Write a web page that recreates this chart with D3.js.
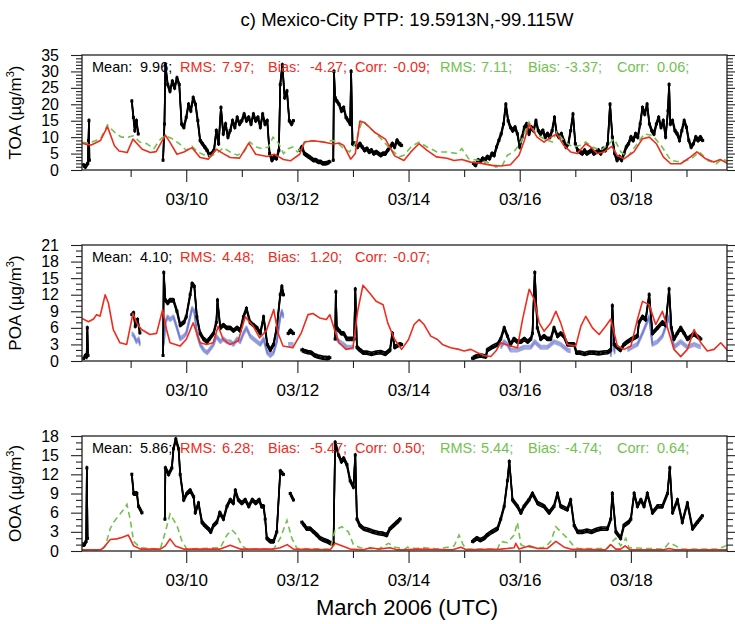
<!DOCTYPE html>
<html>
<head>
<meta charset="utf-8">
<script src="https://cdn.jsdelivr.net/npm/d3@7"></script>
<style>
  body { margin: 0; background: #fff; }
  text { font-family: "Liberation Sans", Arial, Helvetica, sans-serif; }
</style>
</head>
<body>
<div id="chart"></div>
<script>
// time axis: hours since 2006-03-08 00:00 UTC
const dayTicks = [24, 48, 72, 96, 120, 144, 168, 192, 216, 240, 264];
const dayLabels = ["03/09", "03/10", "03/11", "03/12", "03/13", "03/14", "03/15", "03/16", "03/17", "03/18", "03/19"];

// ---- TOA ----
const toaObs = [[3.5,1.5],[4.5,1],[5.5,2],[5.8,9],[6,15],[6.2,3],null,
  [24.5,21],[25.2,16],[25.8,12],[26.5,15],[27.3,11],null,
  [38,3],[38.6,14],[39,32],[40,26],[41,24],[42,27],[43,25],[44,28],[45,26],[46,14],[47,13],[48,16],[49,20],[50,18],[51,22],[52,20],[53,15],[54,9],[55,8],[56,7],[57,6],[58,4.5],[59,5],[60,6],[61,12],[62,8],[63,19],[64,11],[65,14],[66,10],[67,12],[68,15],[69,13],[70,16],[71,14],[72,15],[73,17],[74,15],[75,16],[76,14],[77,17],[78,15],[79,16],[80,13],[81,17],[82,14],[83,15],[84,5],[85,3],[86,4],[87,3.5],[88,6],[88.6,26],[89.5,32],[90.5,22],[91.5,24],[92.5,15],[93.5,14],[94.3,15],null,
  [97,6],[98,7],[99,5],[100,4.5],[101,4],[102,3.5],[103,3],[104,3],[105,2.5],[106,2.5],[107,2],[108,2],[109,2.2],[110,2.5],null,
  [111.5,3],[111.8,30],[112.3,22],[113,21],[114,20],[115,18],[116,19],[117,16],[118,15],[118.8,14],[119.2,30],[119.8,8],[121,8],[122,7],[123,8],[124,7],[125,6],[126,6.5],[127,5.5],[128,6],[129,5],[130,5.5],[131,5],[132,4.5],[133,5],[134,5],[135,6],[136,7],[137,8],[138,7],[139,9],[140,8],[141,7.5],null,
  [172,2],[173,1.5],[174,3],[175,2.5],[176,3.5],[177,3],[178,4],[179,3.5],[180,5],[181,4.5],[182,7],[183,9],[184,11],[185,14],[186,20],[187,15],[188,13],[189,12],[190,13],[191,11],[192,7],[193,10],[194,13],[195,14],[196,11],[197,13],[198,12],[199,15],[200,12],[201,11],[202,12],[203,10],[204,11],[205,10],[206,12],[207,16],[208,11],[209,10],[210,11],[211,9],[212,7],[213,8],[214,12],[215,17],[216,8],[217,6],[218,5.5],[219,5],[220,6],[221,5],[222,5.5],[223,6],[224,5],[225,5.5],[226,6],[227,5],[228,6.5],[229,6],[230,8],[231,20],[232,10],[233,5],[234,3],[235,4],[236,3],[237,5],[238,7],[239,8],[240,10],[241,9],[242,11],[243,10],[244,14],[245,19],[246,17],[247,20],[248,14],[249,12],[250,11],[251,14],[252,16],[253,13],[254,15],[255,10],[256,18],[256.5,26],[257,14],[258,15],[259,12],[260,11],[261,9],[262,12],[263,15],[264,13],[265,9],[266,7],[267,8],[268,10],[269,9],[270,10],[271,9]];
const toaRed = [[3,8.2],[5,7.8],[7,7.6],[9,8.3],[11,9],[14,13.2],[17,7.4],[19,5.8],[22.5,5.3],[25,9.4],[29,6.3],[32.5,5.3],[35,5.6],[39,10.6],[41,8.4],[44,4.8],[47,5.5],[50.5,6.8],[54,3.8],[57.5,3.3],[61,6.3],[64,5],[67,3.8],[71,3.6],[75,8.2],[78,4.8],[83,4.1],[86,4.8],[88,4],[90,3.2],[93,2.8],[97,4.8],[99,8.5],[103,8.9],[107,8.5],[111.5,7.9],[114,8.2],[116,7.5],[119,3.3],[121,5],[123,14.9],[125,14.4],[129.5,11.4],[134,9.4],[138,4.3],[142,2.9],[145,5.5],[148.5,8],[152,6],[156,4],[160.6,3.6],[163.6,2.9],[167,3.2],[170.8,2.4],[175,2.1],[180,1.4],[183.8,1.2],[188,1.6],[191.7,4.5],[194,9],[196,14],[199.5,10],[202.5,8.5],[205.4,10],[208,11],[211,7.5],[214,5.5],[216.8,5],[220.5,8],[222.7,7],[225.5,5],[228.4,5.5],[231.8,7.2],[234,4.5],[237,3.4],[241.3,5.5],[245,9.5],[248,10],[251,8],[254,4],[257.2,1.9],[261.5,1.9],[265.8,4],[268.5,5.5],[272.3,3.4],[275.8,2.4],[278.6,3.2],[282,1.9]];
const toaGreen = [[3,8.4],[6,8.2],[9,9],[11,9.5],[14,13.7],[17,11.5],[20,10],[23,10],[25,10.4],[28,8.5],[31,8],[34,6.5],[37,9.5],[39,10.4],[42,9.5],[45,8],[48,6],[50.5,7.2],[53,5.5],[56,4.5],[59,4.3],[62,5.5],[64,6.8],[67,5.5],[70,4.5],[73,5.5],[75.5,8.5],[78,7],[81,6.5],[83.5,7],[85.5,10],[88,8],[90,5],[92,6.5],[94,7],[96,5.5],[98,7],[100,9],[104,8.8],[108,8.5],[111,9],[113,8.5],[116,6.5],[118.5,5.5],[121,8],[124,15.1],[127,13],[131.5,10],[136,6.5],[140,4],[142,4.5],[145,7],[148.5,8.5],[152,7],[156.3,5.5],[160.6,5.5],[165,5],[167,6.5],[170,3.4],[173.7,3],[178,2.4],[181.7,0.9],[184.5,1.4],[186.7,4.5],[189.5,5.5],[192.5,8.5],[196,14.6],[199,11],[202.5,9.5],[206,8.5],[208,11.5],[211,9],[214.7,7],[218.3,7.5],[220.5,8.5],[223.4,7],[227,6],[230.6,8],[232.8,9.5],[235.7,5.5],[238.6,4],[242.2,7.5],[245.8,11],[249.4,10.5],[253,7.5],[257.3,2.9],[261.6,2.4],[266,3.4],[269.6,5.5],[273.2,2.9],[276.8,1.9],[279.7,3.4],[282,2.4]];
const toaStats = ["Mean:", "9.96;", "RMS:", "7.97;", "Bias:", "-4.27;", "Corr:", "-0.09;", "RMS:", "7.11;", "Bias:", "-3.37;", "Corr:", "0.06;"];

// ---- POA ----
const poaObs = [[3.7,0.5],[4.5,1],[5,0.8],[5.3,6],[5.6,1],null,
  [24.5,8.4],[25.3,8.7],[26,6.3],[27,7.5],[28,5.1],null,
  [38,1],[38.3,16],[39,11],[40,10.5],[41,11],[42.5,11],[44,9],[45.4,6.5],[47,7],[48,8],[49.7,12],[50.5,14],[51.5,13.5],[52.6,8],[54,5],[55.5,4],[57,3.5],[58,4],[59.8,5],[61,7],[61.5,11],[62.7,6],[64,6.5],[65.5,6],[67,6],[68.4,5.5],[70,6],[71.3,5.5],[72.7,8],[74,9.5],[75.6,7],[77,6.5],[78.5,6],[80,5],[81.4,8],[83,3],[84.3,2],[85.7,3],[87.1,6],[88.6,12],[89.3,13.5],[90,12],null,
  [92,5],[93,5.5],[94.3,5],null,
  [97.9,2],[99,1.8],[100.5,1.6],[102,1.5],[103.5,1],[105,0.8],[107,0.6],[109,0.5],[110,0.6],null,
  [112.3,4],[112.6,12.5],[113,6],[114,5.5],[115,5],[116,5],[117.4,4],[119,4],[120.5,4],[121,13],[121.7,2.5],[123,2],[124.5,1.5],[126,1.5],[128,1.3],[130,1.5],[132,1.6],[134,1.3],[136,2],[137,5],[138,2.5],[140,3],[141,3],null,
  [171.6,0.5],[173,0.8],[175,1],[177.4,0.8],[178,2],[180,2.5],[182.4,3],[183.8,4],[185.3,6],[186.7,4.5],[188,3],[189.5,4],[191,3.5],[192.5,3.5],[194,4],[195.5,3.5],[196.8,4],[197.5,5],[198.5,16],[199.6,6],[201,4],[202.5,4.5],[204,4],[205.4,4],[206.8,6],[208.3,4.5],[209.7,5],[211,4.5],[212.6,3],[214,3],[215.5,3],[216.5,1.5],[218,1.5],[220,1.3],[222,1.5],[224,1.5],[226,1.4],[228,1.5],[230,1.6],[231.3,2],[232,10],[232.8,3],[234,2.5],[235.5,2],[237,3],[238.5,3.5],[240.5,4],[242.8,4.5],[243.5,7],[245,8],[246.4,7.5],[247.9,12],[249.3,5],[251.5,6],[253.6,7],[255,6.5],[256.5,13],[257.5,6],[258.6,4],[260,5],[261.5,6],[263,5],[264.4,4],[266,4.5],[267.3,5],[268.5,4.5],[270.2,4]];
const poaBlue = [[5,0.5],[5.3,3],null,
  [24.5,5],[25.5,4.5],[26.5,3.5],[27.5,4],[28,3],null,
  [38.3,3],[39,7],[40,8],[41,7.5],[42.5,8],[44,6],[45.4,4],[47,4.5],[48,5],[49.7,8],[50.5,9.5],[51.5,9],[52.6,5],[54,3],[55.5,2],[57,1.5],[58,2],[59.8,3],[61,4.5],[62.7,3.5],[64,4],[65.5,3.5],[67,3.5],[68.4,3],[70,4],[71.3,3.5],[72.7,5],[74,6],[75.6,4.5],[77,4],[78.5,3.5],[80,3],[81.4,4],[83,1.5],[84.3,1],[85.7,1.5],[87.1,3.5],[88.6,8],[89.3,9],[90,8],null,
  [92,3],[94.3,3],null,
  [112.6,7],[113,4],[114,3.5],[116,3],[117.4,2.5],[120.5,2.5],null,
  [183.8,2.5],[185.3,3.5],[186.7,3],[188,2],[191,2],[194,2.5],[196.8,2.5],[198.5,3.5],[201,2.5],[204,2.5],[206.8,3.5],[209.7,3],[212.6,2],[214,1.8],null,
  [231.3,1],[232,5],[233,1.5],null,
  [238.5,2],[240.5,2.5],[242.8,3],[245,5],[247.9,8],[249.3,3],[251.5,3.5],[253.6,4.5],[256.5,8],[258.6,2.5],[261.5,3.5],[264.4,2.5],[267.3,3],[270.2,2.5]];
const poaRed = [[3,7.7],[5.8,7.1],[8,7.6],[9.3,8.4],[10.8,8.1],[13,12],[14.4,10.5],[16.5,5.7],[19.4,3.3],[22.3,3],[25,8.6],[26.6,6.9],[28.7,5.7],[32.3,4.8],[35.2,5],[37.8,9.3],[39.5,5.7],[41,3.3],[45.3,2.7],[48,3.9],[51,6.9],[54,3.3],[56.8,3],[59.6,3.3],[61.8,6.3],[64,3.9],[66.8,3],[70.4,3.6],[73.5,8],[76.9,6.3],[79.7,4.2],[82.6,5.5],[85.8,9.3],[87.6,5.1],[89.8,2.7],[94,2.4],[97.7,5.1],[100.6,8.4],[102.7,8.6],[105.6,7.8],[108.5,7.5],[110,8.4],[112,5.7],[114,3.3],[117,2.1],[120,2.4],[122,9],[124.3,13.7],[127,12.4],[130,10.8],[133,10.2],[135,6.9],[138,3.9],[141,2.1],[144,3.9],[146.4,6.6],[148.6,7.5],[150.7,6.6],[153.6,4.5],[156.5,3.9],[158.6,3],[162.2,2.4],[165.8,2.1],[168,1.8],[170.9,2.1],[173.8,1.5],[176.6,1],[179.5,0.8],[181.7,1.8],[183.8,3.3],[186,3],[188.1,2.7],[191,2.4],[193.2,7.5],[196.1,13],[198.2,11.2],[200.4,6.9],[202.5,5.4],[205.4,6.9],[207.6,9],[209.7,6.9],[212.6,3],[216.2,2.7],[218.4,6.3],[220.5,8.1],[223.4,6],[226.3,4.8],[229.1,6.3],[231.3,7.6],[234.2,2.7],[237.1,2.1],[240,2.7],[242.8,7.5],[245,10.8],[247.9,10.2],[250.7,6.6],[253.6,9],[255.8,6],[258.6,2.1],[261.5,0.8],[264.4,2.1],[267.3,5.7],[270.2,3.3],[273,1.8],[275.9,2.1],[278.8,3.3],[282,1.8]];
const poaStats = ["Mean:", "4.10;", "RMS:", "4.48;", "Bias:", "1.20;", "Corr:", "-0.07;"];

// ---- OOA ----
const ooaObs = [[2.5,1],[4,1],[4.8,1.5],[5.1,13],[5.4,2],null,
  [24.5,12],[25.3,9],[26.7,9],[27.4,7],[28.9,6],null,
  [38.8,5],[39,13],[40.4,12],[41.8,13],[42.5,16],[43.5,17.5],[44.7,16],[45.4,12],[46.9,8],[48.3,9],[49.7,9.5],[51.2,8.5],[51.9,6],[53.3,7.5],[54.8,4.5],[56,4],[57.5,3.5],[58.6,3],[59.8,4],[61.2,4.5],[62.5,6],[64.1,5],[65.6,7],[67,8],[68.4,7.5],[69.2,9.5],[70.5,8],[72,7.5],[73.5,8],[75,7],[76.5,8],[78,7.5],[79.5,8],[80.5,7],[81.4,7],[82.1,5],[82.8,2],[84.3,1.5],[85.7,1.5],[87.1,3],[88.6,12.5],[90,12],null,
  [92.9,9],[94.3,8],null,
  [97.9,4.5],[99,4],[100,3.5],[101.5,3.5],[103,3],[104.5,2.5],[105.8,2],[107.5,1.7],[109,1.5],[110.5,1.2],[111.6,1.2],[112.3,17],[113.8,15],[115,14],[116,14.5],[117.4,13.5],[118.8,11],[120.2,10],[121,15],[121.7,5],[123,4],[124.6,3.5],[126.5,3.3],[128.9,3],[131,2.8],[133,2.7],[134.6,2.5],[136,3.5],[137.5,4],[139,4.5],[140.4,5],null,
  [171.6,1.5],[173.5,2],[175,1.7],[176.6,2],[178,2.5],[180,3],[182.4,3.5],[183.8,5],[185.3,7],[186.7,11],[187.5,14],[188.9,8],[191,7],[192.5,6],[193.9,7],[196,8],[197.5,9],[199.7,7.5],[202.5,7],[204.7,6],[206.8,7],[208.3,9],[209.7,7],[212.6,6.5],[214,8],[215.5,4],[217,3],[219,3],[221,3.2],[223,3],[225,3.3],[227,3.5],[229.9,3.5],[231.3,5],[232,9],[233.5,3],[235.6,2],[237,4],[239,4.5],[240,5],[241.4,9],[242.8,7],[244.3,8],[245.7,7],[247.1,9],[249.3,6],[251.5,7],[253.6,7],[255.8,9],[256.8,13],[258,6],[260.1,8],[262.2,4.5],[264.4,7.5],[266.6,3.5],[268.7,4.5],[270.9,5.5]];
const ooaRed = [[3,0.2],[11,0.2],[12.3,0.5],[15.2,1.8],[18,1.9],[20.2,2.1],[23,2.5],[25.3,0.8],[28.2,0.3],[36.8,0.3],[39,0.8],[41,1.9],[43.3,0.8],[46.9,0.3],[62.7,0.3],[67,0.9],[71.3,0.3],[85.7,0.3],[88.6,0.5],[91.6,1],[94.3,0.3],[110.2,0.2],[112.3,1.2],[116,0.7],[118.8,0.3],[124.6,0.2],[127.4,0.5],[131,0.3],[136,0.5],[139,0.2],[142,0.2],[148,0.3],[163,0.2],[166.6,0.6],[169,0.2],[183.8,0.3],[189.6,0.5],[190.3,1.2],[191.7,0.3],[196,0.8],[199.7,0.4],[204,0.4],[207.6,1.5],[211.2,0.6],[214,0.3],[229,0.2],[231.3,1],[233.5,0.3],[235.6,0.3],[237.5,0.8],[239.5,0.2],[254,0.2],[256.5,0.4],[259,0.2],[282,0.2]];
const ooaGreen = [[3,0.2],[11,0.2],[13,0.7],[15.2,3.5],[16.6,4.5],[18.8,5.5],[21,6.5],[22.4,7.3],[23.8,5],[25.3,1.5],[28.2,0.5],[36.8,0.3],[39,3],[41,5.8],[44,4],[46.2,1.5],[48.3,0.3],[62.7,0.5],[65.6,2.5],[67.7,3.3],[69.9,2.5],[72,0.8],[74.2,0.3],[85.7,0.3],[88.6,2],[91.5,4.8],[93.6,2],[95.8,0.4],[110.2,0.3],[112.3,3.3],[115.2,3.8],[118,3],[120.2,1],[123.1,0.5],[126,0.4],[131,0.3],[135.4,1.2],[138.2,0.6],[142.5,0.3],[143.5,0.6],[147,0.4],[151,0.5],[156.5,0.3],[163.7,0.8],[165.8,2.5],[167.3,1.2],[168.7,0.3],[182.4,0.3],[183.8,1.5],[186.7,1.3],[189.6,2.5],[191,4.5],[192.5,1],[194.6,0.6],[196.8,0.6],[199.7,0.4],[203,0.6],[205.4,1.5],[207.6,3.8],[209.7,3],[212.6,2],[214.8,1],[217,0.4],[229.9,0.4],[232,1.5],[233.5,2],[235.6,0.8],[237.8,2],[239.2,0.5],[254.3,0.3],[256.5,1.3],[259.4,0.8],[261.5,0.3],[277.4,0.3],[281,0.8],[282,1]];
const ooaStats = ["Mean:", "5.86;", "RMS:", "6.28;", "Bias:", "-5.47;", "Corr:", "0.50;", "RMS:", "5.44;", "Bias:", "-4.74;", "Corr:", "0.64;"];

// layout
const width = 735, height = 624;
const left = 82, right = 727;
const red = "#ee2d1e", green = "#72c250", blue = "#6270cc";
const statX = [92, 140, 180, 222, 268, 310, 355, 393, 440, 481, 528, 565, 617, 657];
const statColor = i => i < 2 ? "#000" : (i < 8 ? red : green);
// the measured series are dense scatter: draw them as a band a few px thick
const bandOffsets = [-1.6, 0, 1.6];

const panels = [
    {name: "TOA", top: 55, bottom: 170, max: 35, step: 5, obs: toaObs, blue: null, red: toaRed, green: toaGreen, stats: toaStats},
    {name: "POA", top: 245, bottom: 361, max: 21, step: 3, obs: poaObs, blue: poaBlue, red: poaRed, green: null, stats: poaStats},
    {name: "OOA", top: 436, bottom: 551, max: 18, step: 3, obs: ooaObs, blue: null, red: ooaRed, green: ooaGreen, stats: ooaStats}
];

const svg = d3.select("#chart")
    .append("svg")
    .attr("width", width)
    .attr("height", height);

const x = d3.scaleLinear().domain([3, 281.5]).range([left, right]);

svg.append("text")
    .attr("x", 407).attr("y", 26)
    .attr("text-anchor", "middle")
    .attr("font-size", 18.5)
    .text("c) Mexico-City PTP: 19.5913N,-99.115W");

svg.append("text")
    .attr("x", 407).attr("y", 615)
    .attr("text-anchor", "middle")
    .attr("font-size", 22)
    .text("March 2006 (UTC)");

panels.forEach((p, k) => {
    const y = d3.scaleLinear().domain([0, p.max]).range([p.bottom, p.top]);
    const g = svg.append("g");

    const clipId = "clip" + k;
    svg.append("clipPath").attr("id", clipId)
        .append("rect")
        .attr("x", left).attr("y", p.top)
        .attr("width", right - left).attr("height", p.bottom - p.top);

    const line = d3.line()
        .defined(d => d !== null)
        .x(d => x(d[0]))
        .y(d => y(d[1]));

    const plot = g.append("g").attr("clip-path", `url(#${clipId})`);

    if (p.blue) {
        plot.selectAll("path.blue")
            .data(bandOffsets)
            .join("path")
            .attr("class", "blue")
            .attr("transform", d => `translate(0,${d})`)
            .attr("d", line(p.blue))
            .attr("fill", "none")
            .attr("stroke", blue)
            .attr("stroke-opacity", 0.6)
            .attr("stroke-width", 1.8)
            .attr("stroke-linejoin", "round");
    }

    plot.selectAll("path.obs")
        .data(bandOffsets)
        .join("path")
        .attr("class", "obs")
        .attr("transform", d => `translate(0,${d})`)
        .attr("d", line(p.obs))
        .attr("fill", "none")
        .attr("stroke", "#000")
        .attr("stroke-width", 1.6)
        .attr("stroke-linejoin", "round");

    plot.selectAll("rect.dot")
        .data(p.obs.filter(d => d !== null))
        .join("rect")
        .attr("class", "dot")
        .attr("x", d => x(d[0]) - 1.5)
        .attr("y", d => y(d[1]) - 1.5)
        .attr("width", 3).attr("height", 3)
        .attr("fill", "#000");

    if (p.green) {
        plot.append("path")
            .attr("d", line(p.green))
            .attr("fill", "none")
            .attr("stroke", green)
            .attr("stroke-width", 1.6)
            .attr("stroke-dasharray", "6,4");
    }

    plot.append("path")
        .attr("d", line(p.red))
        .attr("fill", "none")
        .attr("stroke", red)
        .attr("stroke-width", 1.6)
        .attr("stroke-linejoin", "round");

    // y axes: major + minor ticks, mirrored on the right
    const major = d3.range(0, p.max + 0.1, p.step);
    const minor = d3.range(0, p.max + 0.1, 1).filter(v => v % p.step !== 0);

    const yl = g.append("g").attr("transform", `translate(${left},0)`)
        .call(d3.axisLeft(y).tickValues(major).tickSize(11).tickPadding(12).tickFormat(d3.format("d")));
    g.append("g").attr("transform", `translate(${left},0)`)
        .call(d3.axisLeft(y).tickValues(minor).tickSize(6).tickFormat(""));
    g.append("g").attr("transform", `translate(${right},0)`)
        .call(d3.axisRight(y).tickValues(major).tickSize(11).tickFormat(""));
    g.append("g").attr("transform", `translate(${right},0)`)
        .call(d3.axisRight(y).tickValues(minor).tickSize(6).tickFormat(""));
    yl.selectAll("text").attr("font-size", 16).attr("font-family", null);

    // x axis
    const majorX = dayTicks.filter((d, i) => i % 2 === 1);
    const minorX = dayTicks.filter((d, i) => i % 2 === 0);
    const xl = g.append("g").attr("transform", `translate(0,${p.bottom})`)
        .call(d3.axisBottom(x).tickValues(majorX).tickSize(12).tickPadding(11)
            .tickFormat(d => dayLabels[dayTicks.indexOf(d)]));
    g.append("g").attr("transform", `translate(0,${p.bottom})`)
        .call(d3.axisBottom(x).tickValues(minorX).tickSize(7).tickFormat(""));
    xl.selectAll("text").attr("font-size", 17).attr("font-family", null);

    g.selectAll(".domain").remove();
    g.selectAll(".tick line").attr("stroke", "#222").attr("stroke-width", 1.1);

    g.append("rect")
        .attr("x", left).attr("y", p.top)
        .attr("width", right - left).attr("height", p.bottom - p.top)
        .attr("fill", "none")
        .attr("stroke", "#222")
        .attr("stroke-width", 1.3);

    // axis title with superscript
    const yt = g.append("text")
        .attr("transform", `translate(21,${(p.top + p.bottom) / 2}) rotate(-90)`)
        .attr("text-anchor", "middle")
        .attr("font-size", 17);
    yt.append("tspan").text(p.name + " (\u00b5g/m");
    yt.append("tspan").attr("dy", -7).attr("font-size", 11).text("3");
    yt.append("tspan").attr("dy", 7).text(")");

    // statistics line
    g.selectAll("text.stat")
        .data(p.stats)
        .join("text")
        .attr("class", "stat")
        .attr("x", (d, i) => statX[i])
        .attr("y", p.top + 16.5)
        .attr("font-size", 14.5)
        .attr("fill", (d, i) => statColor(i))
        .text(d => d);
});
</script>
</body>
</html>
